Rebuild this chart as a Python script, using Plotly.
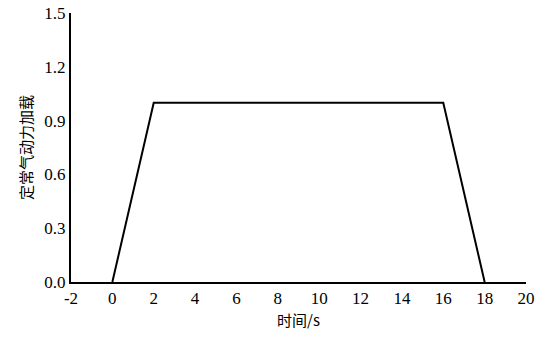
import plotly.graph_objects as go

# Time history of the steady aerodynamic load (ramp up, hold, ramp down)
time_s = [0, 2, 16, 18]
load = [0.0, 1.0, 1.0, 0.0]

x_ticks = [-2, 0, 2, 4, 6, 8, 10, 12, 14, 16, 18, 20]
y_ticks = [0.0, 0.3, 0.6, 0.9, 1.2, 1.5]
y_tick_labels = ["0.0", "0.3", "0.6", "0.9", "1.2", "1.5"]
x_title = "时间/s"
y_title = "定常气动力加载"

fig = go.Figure()
fig.add_trace(go.Scatter(x=time_s, y=load, mode="lines",
                         line=dict(color="black", width=2), showlegend=False))

fig.update_layout(
    width=537, height=337,
    margin=dict(l=71, r=11, t=13, b=55),
    paper_bgcolor="white", plot_bgcolor="white",
    template="none",
    xaxis=dict(range=[-2, 20], tickvals=x_ticks, ticktext=[str(v) for v in x_ticks],
               automargin=False, showline=True, linecolor="black", linewidth=2,
               showgrid=False, zeroline=False,
               tickfont=dict(family="Liberation Serif", size=17, color="black"),
               title=dict(text=x_title, standoff=8,
                          font=dict(family="Noto Sans CJK SC", size=15, color="black"))),
    yaxis=dict(range=[0, 1.5], tickvals=y_ticks, ticktext=y_tick_labels,
               automargin=False, showline=True, linecolor="black", linewidth=2,
               showgrid=False, zeroline=False,
               tickfont=dict(family="Liberation Serif", size=17, color="black"),
               title=dict(text=y_title, standoff=8,
                          font=dict(family="Noto Sans CJK SC", size=15, color="black"))),
)

fig.write_html("out.html")
